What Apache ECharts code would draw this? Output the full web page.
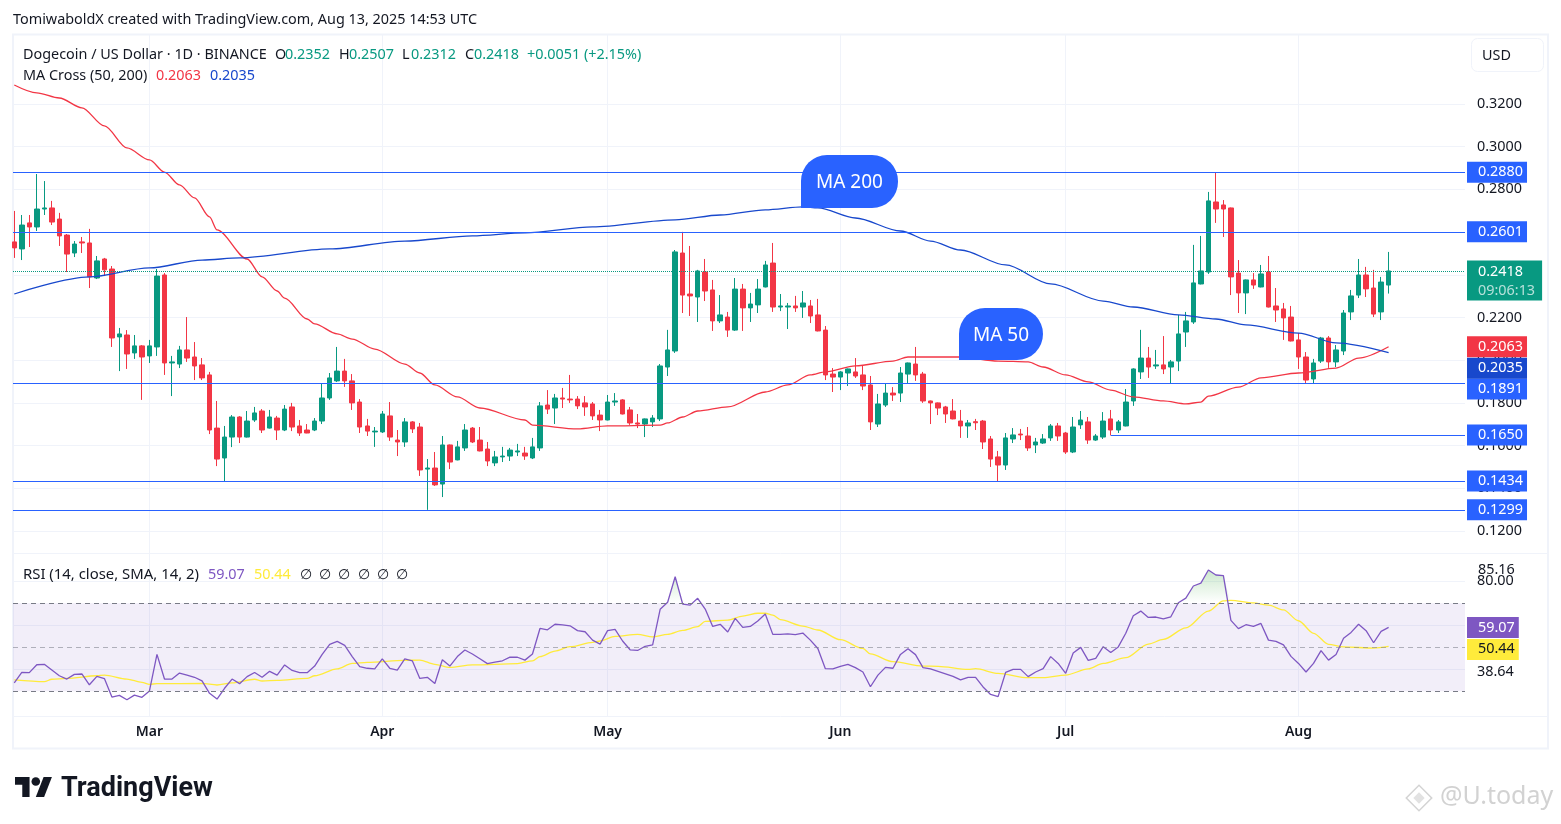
<!DOCTYPE html>
<html lang="en">
<head>
    <meta charset="UTF-8">
    <title>DOGE / USD</title>
    <script src="https://cdn.jsdelivr.net/npm/echarts@6/dist/echarts.min.js"></script>
    <style>
        html, body { margin: 0; padding: 0; background: #fff; }
        #chart { width: 1561px; height: 824px; }
    </style>
</head>
<body>
    <div id="chart"></div>
    <script>
        // daily candles, 11 Feb to 13 Aug 2025
        const opens = [
            .2554,.2521,.2643,.2624,.2708,.2713,.2661,.2586,.2502,.2554,
            .2549,.2385,.2474,.2427,.2109,.2118,.2034,.2067,.2020,.2062,
            .2399,.1987,.1982,.2048,.2015,.1978,.1931,.1682,.1542,.1640,
            .1734,.1640,.1720,.1762,.1682,.1729,.1673,.1781,.1692,.1673,
            .1673,.1715,.1823,.1903,.1949,.1903,.1804,.1692,.1664,.1664,
            .1739,.1626,.1617,.1711,.1687,.1490,.1495,.1420,.1603,.1533,
            .1589,.1682,.1626,.1584,.1519,.1547,.1551,.1570,.1565,.1542,
            .1589,.1790,.1776,.1823,.1818,.1818,.1800,.1795,.1743,.1720,
            .1804,.1814,.1767,.1706,.1701,.1711,.1725,.1968,.2043,.2502,
            .2310,.2296,.2413,.2329,.2184,.2202,.2141,.2333,.2245,.2259,
            .2343,.2455,.2249,.2249,.2254,.2249,.2254,.2212,.2141,.1935,
            .1921,.1940,.1945,.1931,.1884,.1701,.1790,.1846,.1846,.1935,
            .1982,.1935,.1809,.1800,.1781,.1762,.1715,.1692,.1712,.1715,
            .1631,.1547,.1509,.1631,.1654,.1645,.1603,.1612,.1636,.1692,
            .1659,.1570,.1697,.1711,.1626,.1640,.1725,.1673,.1692,.1809,
            .1945,.2010,.1973,.1978,.1968,.1996,.2132,.2179,.2357,.2413,
            .2741,.2727,.2713,.2408,.2315,.2376,.2343,.2413,.2254,.2240,
            .2202,.2095,.2015,.1912,.1996,.2104,.1992,.2043,.2226,.2305,
            .2399,.2338,.2226,.2352
        ];
        const highs = [
            .2699,.2680,.2680,.2872,.2839,.2746,.2690,.2591,.2558,.2577,
            .2615,.2488,.2479,.2441,.2151,.2141,.2118,.2071,.2095,.2427,
            .2408,.2020,.2067,.2202,.2085,.2010,.1945,.1809,.1692,.1743,
            .1738,.1762,.1781,.1771,.1767,.1739,.1790,.1800,.1720,.1701,
            .1729,.1889,.1940,.2062,.2006,.1935,.1818,.1725,.1687,.1762,
            .1804,.1673,.1729,.1715,.1706,.1537,.1570,.1645,.1605,.1622,
            .1701,.1687,.1687,.1617,.1575,.1594,.1589,.1608,.1594,.1636,
            .1804,.1860,.1842,.1870,.1931,.1832,.1832,.1804,.1767,.1837,
            .1846,.1818,.1781,.1748,.1727,.1743,.1982,.2142,.2516,.2601,
            .2535,.2423,.2474,.2376,.2305,.2226,.2385,.2357,.2315,.2380,
            .2465,.2549,.2310,.2268,.2301,.2324,.2282,.2287,.2160,.1963,
            .1949,.1961,.2010,.1973,.1926,.1842,.1893,.1874,.1968,.1989,
            .2062,.1945,.1811,.1802,.1786,.1818,.1767,.1720,.1725,.1720,
            .1645,.1575,.1659,.1682,.1678,.1687,.1636,.1654,.1701,.1706,
            .1664,.1734,.1762,.1734,.1654,.1757,.1767,.1720,.1865,.1962,
            .2142,.2062,.2048,.2113,.2001,.2212,.2226,.2540,.2582,.2788,
            .2880,.2750,.2715,.2469,.2378,.2408,.2446,.2488,.2338,.2268,
            .2254,.2127,.2038,.2006,.2109,.2113,.2071,.2235,.2329,.2474,
            .2437,.2423,.2390,.2507
        ];
        const lows = [
            .2479,.2469,.2530,.2605,.2680,.2633,.2535,.2413,.2483,.2502,
            .2338,.2380,.2394,.2062,.1949,.1959,.2006,.1814,.1987,.2020,
            .1931,.1832,.1963,.1992,.1907,.1907,.1654,.1504,.1434,.1593,
            .1612,.1638,.1711,.1659,.1680,.1626,.1668,.1668,.1645,.1658,
            .1668,.1701,.1814,.1898,.1875,.1767,.1659,.1645,.1594,.1659,
            .1622,.1551,.1594,.1659,.1458,.1299,.1411,.1359,.1490,.1531,
            .1575,.1612,.1573,.1504,.1504,.1523,.1528,.1551,.1533,.1537,
            .1575,.1748,.1701,.1776,.1800,.1771,.1739,.1720,.1668,.1718,
            .1786,.1746,.1697,.1682,.1640,.1687,.1715,.1926,.2034,.2221,
            .2207,.2179,.2277,.2137,.2174,.2109,.2137,.2137,.2179,.2221,
            .2341,.2226,.2230,.2146,.2226,.2198,.2174,.2135,.1907,.1851,
            .1860,.1879,.1917,.1860,.1673,.1687,.1781,.1809,.1804,.1893,
            .1903,.1800,.1701,.1743,.1706,.1723,.1636,.1636,.1673,.1584,
            .1500,.1434,.1486,.1612,.1626,.1575,.1565,.1608,.1622,.1622,
            .1561,.1565,.1678,.1608,.1622,.1631,.1648,.1659,.1690,.1786,
            .1912,.1917,.1959,.1935,.1891,.1949,.2062,.2170,.2355,.2404,
            .2643,.2577,.2305,.2221,.2216,.2334,.2341,.2247,.2179,.2095,
            .2088,.1959,.1891,.1891,.1987,.1964,.1968,.2024,.2188,.2291,
            .2296,.2202,.2188,.2312
        ];
        const closes = [
            .2526,.2633,.2624,.2708,.2713,.2647,.2582,.2497,.2544,.2549,
            .2390,.2465,.2423,.2104,.2123,.2029,.2067,.2015,.2067,.2394,
            .1987,.1992,.2048,.2010,.1973,.1917,.1673,.1537,.1640,.1734,
            .1640,.1715,.1753,.1673,.1734,.1673,.1771,.1687,.1659,.1659,
            .1715,.1823,.1917,.1949,.1903,.1800,.1687,.1668,.1668,.1748,
            .1640,.1617,.1711,.1678,.1486,.1495,.1416,.1603,.1523,.1594,
            .1673,.1617,.1575,.1528,.1547,.1551,.1579,.1575,.1551,.1594,
            .1786,.1771,.1823,.1818,.1814,.1786,.1781,.1739,.1720,.1804,
            .1809,.1748,.1706,.1701,.1725,.1729,.1973,.2048,.2507,.2305,
            .2301,.2418,.2324,.2184,.2212,.2141,.2333,.2245,.2263,.2333,
            .2446,.2249,.2254,.2254,.2245,.2268,.2207,.2137,.1931,.1921,
            .1945,.1959,.1926,.1879,.1711,.1795,.1846,.1837,.1940,.1987,
            .1931,.1809,.1800,.1776,.1748,.1725,.1692,.1706,.1707,.1617,
            .1537,.1509,.1636,.1650,.1650,.1589,.1617,.1631,.1692,.1645,
            .1570,.1687,.1720,.1626,.1645,.1715,.1673,.1711,.1804,.1959,
            .2010,.1968,.1978,.1959,.1992,.2123,.2184,.2362,.2418,.2746,
            .2708,.2708,.2390,.2315,.2376,.2352,.2404,.2249,.2235,.2198,
            .2090,.2015,.1907,.1987,.2104,.1992,.2048,.2221,.2301,.2399,
            .2334,.2216,.2366,.2418
        ];

        // moving averages, read at the candle numbers in the *Days lists
        const ma50Days = [0,3,6,9,12,15,18,20,22,24,26,27,31,33,35,36,39,40,43,45,48,52,54,56,59,62,68,69,75,79,86,87,89,91,95,100,103,106,108,112,117,119,122,126,131,135,137,140,143,146,149,153,156,158,159,163,166,171,176,179,183];
        const ma50Values = [.3289,.3252,.3228,.3182,.3097,.2994,.2938,.2881,.2821,.2760,.2671,.2610,.2474,.2390,.2324,.2291,.2193,.2170,.2123,.2099,.2052,.1982,.1940,.1884,.1828,.1776,.1720,.1696,.1678,.1692,.1696,.1706,.1734,.1762,.1781,.1851,.1884,.1931,.1945,.1973,.1996,.2015,.2015,.2015,.1996,.1992,.1968,.1931,.1898,.1860,.1828,.1809,.1795,.1804,.1832,.1874,.1917,.1940,.1963,.2010,.2063];
        const ma200Days = [0,10,18,25,30,42,52,61,68,77,88,94,100,105,107,112,118,122,126,132,138,145,149,155,160,164,171,176,183];
        const ma200Values = [.2310,.2390,.2432,.2469,.2479,.2521,.2558,.2582,.2596,.2624,.2657,.2680,.2704,.2718,.2713,.2666,.2605,.2558,.2516,.2446,.2357,.2277,.2249,.2212,.2193,.2165,.2127,.2081,.2035];

        // RSI per candle, and its smoothing line at the *Days candle numbers
        const rsiValues = [
            33.9,38.6,38.5,42.1,42.3,39.7,37.1,35.6,37.7,37.9,
            33.0,36.8,35.8,27.4,28.2,26.2,28.3,27.3,30.2,46.8,
            35.6,35.6,38.3,37.4,36.4,34.8,29.1,26.5,31.4,35.6,
            33.5,36.7,38.6,36.4,39.1,37.4,42.0,39.5,38.5,38.5,
            41.5,46.8,51.4,52.7,50.9,45.8,41.2,40.5,40.2,44.8,
            40.5,39.7,44.8,43.9,35.9,36.4,33.6,44.4,41.5,45.8,
            48.8,47.0,44.8,42.6,43.3,43.9,45.6,45.5,44.2,47.0,
            58.6,58.0,60.5,60.2,59.8,57.6,57.1,53.3,51.5,57.6,
            58.2,52.9,48.9,48.6,50.5,51.1,67.3,70.5,82.1,69.7,
            69.2,72.3,67.4,59.5,60.5,57.0,63.2,59.1,59.5,62.0,
            65.2,55.9,55.9,56.1,55.8,56.5,53.3,49.5,40.3,40.2,
            41.4,42.3,40.8,38.8,32.1,37.4,40.9,40.5,46.8,49.4,
            46.7,40.8,40.2,39.1,38.0,36.8,35.2,36.4,36.4,32.0,
            28.6,27.6,38.6,40.0,40.0,36.7,38.8,40.3,45.8,42.7,
            38.2,47.4,50.0,44.1,45.0,50.3,47.7,50.2,56.4,64.4,
            66.5,63.6,63.8,62.9,63.9,70.3,72.4,77.9,79.2,85.16,
            82.9,82.6,62.3,58.5,60.3,59.5,60.9,53.3,52.7,51.1,
            45.9,42.7,38.8,42.7,48.5,44.2,46.8,54.1,56.8,60.5,
            57.6,52.1,57.3,59.07
        ];
        const rsiMaDays = [0,4,5,7,11,12,15,17,18,19,25,27,29,32,33,35,39,40,43,45,47,52,54,56,58,61,67,69,70,72,74,77,78,80,83,85,87,89,91,92,95,97,99,100,101,102,105,107,110,113,114,117,121,123,127,128,131,135,137,140,143,145,148,151,153,156,159,161,162,165,167,169,171,173,175,177,181,183];
        const rsiMaValues = [35.2,34.4,35.5,35.9,37.1,37.4,35.6,34.1,33.2,33.5,33.6,32.9,33.9,35.5,34.7,35.0,35.9,37.1,40.2,42.7,43.2,44.1,44.2,42.3,40.9,42.0,42.6,43.9,45.8,48.3,50.3,52.3,52.9,55.0,55.9,54.8,55.9,57.7,59.4,61.8,62.4,64.2,65.5,65.5,64.7,62.6,59.7,57.9,53.5,49.5,47.0,43.5,41.5,41.4,40.0,40.3,38.2,36.2,36.2,37.4,40.2,42.7,45.3,51.5,53.6,58.9,66.5,71.1,71.4,70.2,69.2,67.0,62.1,56.4,51.4,50.2,49.7,50.44];

        // axis labels and the drawn price levels
        const monthNames = ['Jan', 'Feb', 'Mar', 'Apr', 'May', 'Jun', 'Jul', 'Aug'];
        const priceTicks = [0.12, 0.14, 0.16, 0.18, 0.20, 0.22, 0.24, 0.26, 0.28, 0.30, 0.32];
        const rsiGridTicks = [40, 60, 80];
        const rsiLabelTicks = [38.64, 80];
        const rsiPeak = 85.16;
        const levels = [0.2880, 0.2601, 0.1891, 0.1434, 0.1299];
        const shortLevel = 0.1650;
        const shortLevelDay = 146;

        const UP = '#089981', DOWN = '#f23645', LEVEL = '#2962ff', MA200 = '#1848cc';
        const PURPLE = '#7e57c2', YELLOW = '#ffeb3b', INK = '#131722', GRID = '#f0f3fa';
        const FONT = '"Noto Sans", sans-serif';
        const TEXT_SIZE = 14.4;

        // the x axis counts days from the first candle
        const dayMs = 86400000;
        const startDay = Date.UTC(2025, 1, 11);
        const xMin = -0.17, xMax = 193.17;
        const monthStarts = [2, 3, 4, 5, 6, 7].map(m => (Date.UTC(2025, m, 1) - startDay) / dayMs);

        const candles = opens.map((o, i) => [i, o, closes[i], lows[i], highs[i]]);
        const pairUp = (days, values) => days.map((d, i) => [d, values[i]]);

        // price tag sitting in the axis column, carried by a markLine label
        const tag = (text, bg, dy, color) => ({
            show: true,
            position: 'end',
            distance: 2,
            formatter: text,
            color: color || '#fff',
            backgroundColor: bg,
            fontFamily: FONT,
            fontSize: TEXT_SIZE,
            lineHeight: 15,
            padding: [4, 4, 2, 11],
            offset: [0, dy || 0]
        });

        const priceMarks = [
            // the 0.1891 tag is pushed down by the two tags above it
            ...levels.map(v => ({ yAxis: v, label: tag(v.toFixed(4), LEVEL, v === 0.1891 ? 5.5 : 0), lineStyle: { color: LEVEL, width: 1, type: 'solid' } })),
            [
                { coord: [shortLevelDay, shortLevel], label: tag(shortLevel.toFixed(4), LEVEL), lineStyle: { color: LEVEL, width: 1, type: 'solid' } },
                { coord: [xMax, shortLevel] }
            ],
            {
                yAxis: closes[closes.length - 1],
                lineStyle: { color: UP, width: 1, type: 'dotted' },
                label: {
                    show: true,
                    position: 'end',
                    distance: 2,
                    backgroundColor: UP,
                    padding: [2, 7, 0, 11],
                    offset: [0, 9.5],
                    formatter: '{a|0.2418}\n{b|09:06:13}',
                    rich: {
                        a: { color: '#fff', fontFamily: FONT, fontSize: TEXT_SIZE, lineHeight: 19 },
                        b: { color: 'rgba(255,255,255,.7)', fontFamily: FONT, fontSize: TEXT_SIZE, lineHeight: 19 }
                    }
                }
            }
        ];

        const headerText = [
            ['TomiwaboldX created with TradingView.com, Aug 13, 2025 14:53 UTC', 13, 20, INK],
            ['Dogecoin / US Dollar · 1D · BINANCE', 23, 55, INK],
            ['O', 275, 55, INK], ['0.2352', 285, 55, UP],
            ['H', 339, 55, INK], ['0.2507', 349, 55, UP],
            ['L', 402, 55, INK], ['0.2312', 411, 55, UP],
            ['C', 465, 55, INK], ['0.2418', 474, 55, UP],
            ['+0.0051 (+2.15%)', 527, 55, UP],
            ['MA Cross (50, 200)', 23, 76, INK],
            ['0.2063', 156, 76, DOWN], ['0.2035', 210, 76, MA200],
            ['RSI (14, close, SMA, 14, 2)', 23, 575, INK, 14.9],
            ['59.07', 208, 575, PURPLE], ['50.44', 254, 575, YELLOW],
            ['∅', 300, 575, INK], ['∅', 319, 575, INK], ['∅', 338, 575, INK],
            ['∅', 358, 575, INK], ['∅', 377, 575, INK], ['∅', 396, 575, INK],
            ['USD', 1482, 56, INK]
        ];

        const callout = (text, x, y, w, h) => ({
            type: 'group',
            z: 50,
            children: [
                { type: 'rect', z: 50, shape: { x: x, y: y, width: w, height: h, r: [26, 26, 26, 0] }, style: { fill: LEVEL } },
                { type: 'text', z: 51, x: x + w / 2, y: y + h / 2 + 1.5, style: { text: text, fill: '#fff', font: '19px ' + FONT, textAlign: 'center', textVerticalAlign: 'middle' } }
            ]
        });

        // TradingView mark, outline in its own 36 x 18 box
        const logoPoint = p => [15 + p[0] * 1.04, 777 + (p[1] - 4) * 1.11];
        const logoBar = [[0, 4], [14, 4], [14, 22], [7, 22], [7, 11], [0, 11]];
        const logoSlant = [[27.5, 4], [35.5, 4], [28, 22], [20, 22]];

        const graphics = [
            { type: 'rect', z: -1, shape: { x: 13, y: 34.5, width: 1535, height: 714 }, style: { fill: 'none', stroke: GRID, lineWidth: 2 } },
            { type: 'line', z: -1, shape: { x1: 13, y1: 553.5, x2: 1548, y2: 553.5 }, style: { stroke: GRID, lineWidth: 1 } },
            { type: 'line', z: -1, shape: { x1: 13, y1: 716.5, x2: 1548, y2: 716.5 }, style: { stroke: GRID, lineWidth: 1 } },
            { type: 'rect', z: 1, shape: { x: 1471.5, y: 38.5, width: 72, height: 33, r: 6 }, style: { fill: '#fff', stroke: GRID, lineWidth: 1 } },
            ...headerText.map(t => ({
                type: 'text', z: 40, x: t[1], y: t[2],
                style: { text: t[0], fill: t[3], font: (t[4] || TEXT_SIZE) + 'px ' + FONT, textVerticalAlign: 'middle' }
            })),
            callout('MA 200', 801, 155, 97, 53),
            callout('MA 50', 959, 308, 84, 52),
            { type: 'polygon', z: 40, shape: { points: logoBar.map(logoPoint) }, style: { fill: INK } },
            { type: 'polygon', z: 40, shape: { points: logoSlant.map(logoPoint) }, style: { fill: INK } },
            { type: 'circle', z: 40, shape: { cx: logoPoint([20, 8])[0], cy: logoPoint([20, 8])[1], r: 4.3 }, style: { fill: INK } },
            { type: 'text', z: 40, x: 61, y: 789, style: { text: 'TradingView', fill: INK, font: 'bold 27px Roboto, sans-serif', textVerticalAlign: 'middle' } },
            // U.today watermark
            { type: 'rect', z: 40, x: 1419, y: 798, rotation: Math.PI / 4, shape: { x: -9, y: -9, width: 18, height: 18 }, style: { fill: 'none', stroke: '#d4d4d4', lineWidth: 1.5 } },
            { type: 'rect', z: 40, x: 1419, y: 798, rotation: Math.PI / 4, shape: { x: -4, y: -4, width: 8, height: 8 }, style: { fill: '#e2e2e2' } },
            { type: 'text', z: 40, x: 1440, y: 797, style: { text: '@U.today', fill: '#d2d2d2', font: '25px ' + FONT, textVerticalAlign: 'middle' } }
        ];

        const myChart = echarts.init(document.querySelector('#chart'));
        const option = {
            animation: false,
            backgroundColor: '#fff',
            graphic: graphics,
            grid: [
                { left: 13, width: 1452, top: 35, height: 518 },
                { left: 13, width: 1452, top: 553, height: 163 }
            ],
            xAxis: [
                {
                    type: 'value', gridIndex: 0, min: xMin, max: xMax,
                    axisLine: { show: false },
                    axisTick: { show: false, customValues: monthStarts },
                    axisLabel: { show: false, customValues: monthStarts },
                    splitLine: { show: true, lineStyle: { color: GRID, width: 1 } }
                },
                {
                    type: 'value', gridIndex: 1, min: xMin, max: xMax,
                    axisLine: { show: false },
                    axisTick: { show: false, customValues: monthStarts },
                    axisLabel: {
                        customValues: monthStarts,
                        margin: 9,
                        color: INK,
                        fontFamily: FONT,
                        fontSize: 14,
                        fontWeight: 600,
                        formatter: v => monthNames[new Date(startDay + v * dayMs).getUTCMonth()]
                    },
                    splitLine: { show: true, lineStyle: { color: GRID, width: 1 } }
                }
            ],
            yAxis: [
                {
                    type: 'value', gridIndex: 0, position: 'right', min: 0.1097, max: 0.3523,
                    axisLine: { show: false },
                    axisTick: { show: false, customValues: priceTicks },
                    axisLabel: {
                        customValues: priceTicks,
                        margin: 12,
                        padding: [3, 0, 0, 0],
                        showMinLabel: true,
                        showMaxLabel: true,
                        color: INK,
                        fontFamily: FONT,
                        fontSize: TEXT_SIZE,
                        formatter: v => v.toFixed(4)
                    },
                    splitLine: { show: true, lineStyle: { color: GRID, width: 1 } }
                },
                {
                    type: 'value', gridIndex: 1, position: 'right', min: 18.8, max: 92.9,
                    axisLine: { show: false },
                    axisTick: { show: false, customValues: rsiGridTicks },
                    axisLabel: {
                        customValues: rsiLabelTicks,
                        margin: 12,
                        padding: [3, 0, 0, 0],
                        showMinLabel: true,
                        showMaxLabel: true,
                        color: INK,
                        fontFamily: FONT,
                        fontSize: TEXT_SIZE,
                        formatter: v => v.toFixed(2)
                    },
                    splitLine: { show: true, lineStyle: { color: GRID, width: 1 } }
                }
            ],
            series: [
                {
                    name: 'DOGE',
                    type: 'candlestick',
                    xAxisIndex: 0,
                    yAxisIndex: 0,
                    barWidth: 5,
                    z: 3,
                    data: candles,
                    encode: { x: 0, y: [1, 2, 3, 4] },
                    itemStyle: { color: UP, color0: DOWN, borderColor: UP, borderColor0: DOWN, borderWidth: 1 },
                    markLine: { silent: true, precision: 4, symbol: ['none', 'none'], lineStyle: { color: LEVEL, opacity: 1 }, animation: false, data: priceMarks }
                },
                {
                    name: 'MA 50', type: 'line', xAxisIndex: 0, yAxisIndex: 0, z: 4,
                    showSymbol: false, smooth: 0.3, smoothMonotone: 'x',
                    data: pairUp(ma50Days, ma50Values),
                    lineStyle: { color: DOWN, width: 1.3 },
                    markLine: {
                        silent: true, precision: 4, symbol: ['none', 'none'],
                        data: [{ yAxis: 0.2063, label: tag('0.2063', DOWN), lineStyle: { width: 0 } }]
                    }
                },
                {
                    name: 'MA 200', type: 'line', xAxisIndex: 0, yAxisIndex: 0, z: 4,
                    showSymbol: false, smooth: 0.3, smoothMonotone: 'x',
                    data: pairUp(ma200Days, ma200Values),
                    lineStyle: { color: MA200, width: 1.3 },
                    markLine: {
                        silent: true, precision: 4, symbol: ['none', 'none'],
                        data: [{ yAxis: 0.2035, label: tag('0.2035', MA200, 15.5), lineStyle: { width: 0 } }]
                    }
                },
                {
                    // fill between the RSI line and 70 where it runs above
                    name: 'RSI over', type: 'line', xAxisIndex: 1, yAxisIndex: 1, z: 2,
                    showSymbol: false,
                    data: rsiValues.map((v, i) => [i, Math.max(v, 70)]),
                    lineStyle: { width: 0 },
                    areaStyle: {
                        origin: 70,
                        color: new echarts.graphic.LinearGradient(0, 571, 0, 603, [
                            { offset: 0, color: 'rgba(76,175,80,.4)' },
                            { offset: 1, color: 'rgba(76,175,80,0)' }
                        ], true)
                    }
                },
                {
                    name: 'RSI', type: 'line', xAxisIndex: 1, yAxisIndex: 1, z: 4,
                    showSymbol: false,
                    data: rsiValues.map((v, i) => [i, v]),
                    lineStyle: { color: PURPLE, width: 1.3 },
                    markArea: {
                        silent: true,
                        itemStyle: { color: 'rgba(126,87,194,.1)' },
                        data: [[{ yAxis: 70 }, { yAxis: 30 }]]
                    },
                    markLine: {
                        silent: true, symbol: ['none', 'none'],
                        data: [
                            { yAxis: 70, label: { show: false }, lineStyle: { color: '#787b86', width: 1, type: [5, 4] } },
                            { yAxis: 50, label: { show: false }, lineStyle: { color: 'rgba(120,123,134,.55)', width: 1, type: [5, 4] } },
                            { yAxis: 30, label: { show: false }, lineStyle: { color: '#787b86', width: 1, type: [5, 4] } },
                            { yAxis: 59.07, label: tag('59.07', PURPLE), lineStyle: { width: 0 } },
                            // sits on top of the 80.00 label, so it can't be an axis label
                            { yAxis: rsiPeak, label: tag(rsiPeak.toFixed(2), 'transparent', 0, INK), lineStyle: { width: 0 } }
                        ]
                    }
                },
                {
                    name: 'RSI MA', type: 'line', xAxisIndex: 1, yAxisIndex: 1, z: 3,
                    showSymbol: false, smooth: 0.3, smoothMonotone: 'x',
                    data: pairUp(rsiMaDays, rsiMaValues),
                    lineStyle: { color: YELLOW, width: 1.3 },
                    markLine: {
                        silent: true, symbol: ['none', 'none'],
                        data: [{ yAxis: 50.44, label: tag('50.44', YELLOW, 3, INK), lineStyle: { width: 0 } }]
                    }
                }
            ]
        };
        myChart.setOption(option);
    </script>
</body>
</html>
